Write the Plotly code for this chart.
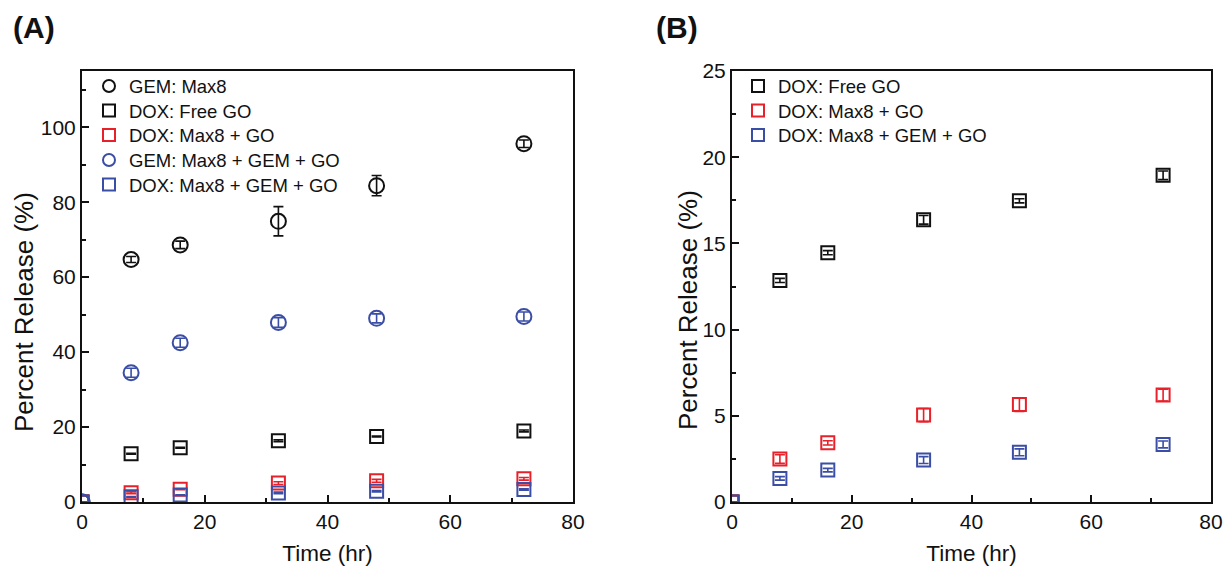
import plotly.graph_objects as go

# ---- data ----
time_hr = [0, 8, 16, 32, 48, 72]

gem_max8 = [0, 64.7, 68.6, 74.9, 84.4, 95.6]
gem_max8_err = [0, 0.8, 1.0, 3.9, 2.7, 1.0]

gem_max8_gem_go = [0, 34.5, 42.5, 47.9, 49.0, 49.5]
gem_max8_gem_go_err = [0, 1.2, 1.2, 1.3, 1.2, 1.2]

dox_free_go = [0, 12.85, 14.46, 16.37, 17.47, 18.95]
dox_free_go_err = [0, 0.12, 0.12, 0.25, 0.12, 0.25]

dox_max8_go = [0, 2.49, 3.43, 5.04, 5.65, 6.20]
dox_max8_go_err = [0, 0.25, 0.12, 0.38, 0.4, 0.35]

dox_max8_gem_go = [0, 1.37, 1.85, 2.43, 2.88, 3.34]
dox_max8_gem_go_err = [0, 0.1, 0.1, 0.2, 0.2, 0.2]

x_ticks = [0, 20, 40, 60, 80]
yA_ticks = [0, 20, 40, 60, 80, 100]
yB_ticks = [0, 5, 10, 15, 20, 25]

BLACK = "#111111"
RED = "#e8202a"
BLUE = "#3b4ea6"
FONT = "Liberation Sans, Arial, Helvetica, sans-serif"

# page body has an 8px margin on every side: work in reference pixels, shifted,
# and keep the figure inside the window so nothing scrolls
OFF = 8
W, H = 1231 - 2 * OFF, 574 - 2 * OFF


def px(x):
    return (x - OFF) / W


def py(y):
    return 1 - (y - OFF) / H


fig = go.Figure()
legend_rows = []


def add(x, y, err, name, color, symbol, size, xaxis, yaxis, lx, ly):
    key = "legend" if not legend_rows else "legend%d" % (len(legend_rows) + 1)
    legend_rows.append((key, lx, ly))
    fig.add_trace(go.Scatter(
        x=x, y=y, mode="markers", name=name,
        xaxis=xaxis, yaxis=yaxis, legend=key,
        marker=dict(symbol=symbol, size=size, color=color,
                    line=dict(color=color, width=2)),
        error_y=dict(type="data", array=err, visible=True, color=color,
                     thickness=1.6, width=5),
    ))


rows = [86.5, 111, 135.5, 160.5, 185]
LA, LB = 89, 738

# Panel A
add(time_hr, gem_max8, gem_max8_err, "GEM: Max8", BLACK, "circle-open", 15, "x", "y", LA, rows[0])
add(time_hr, dox_free_go, dox_free_go_err, "DOX: Free GO", BLACK, "square-open", 13, "x", "y", LA, rows[1])
add(time_hr, dox_max8_go, dox_max8_go_err, "DOX: Max8 + GO", RED, "square-open", 13, "x", "y", LA, rows[2])
add(time_hr, gem_max8_gem_go, gem_max8_gem_go_err, "GEM: Max8 + GEM + GO", BLUE, "circle-open", 15, "x", "y", LA, rows[3])
add(time_hr, dox_max8_gem_go, dox_max8_gem_go_err, "DOX: Max8 + GEM + GO", BLUE, "square-open", 13, "x", "y", LA, rows[4])

# Panel B
add(time_hr, dox_free_go, dox_free_go_err, "DOX: Free GO", BLACK, "square-open", 13, "x2", "y2", LB, rows[0])
add(time_hr, dox_max8_go, dox_max8_go_err, "DOX: Max8 + GO", RED, "square-open", 13, "x2", "y2", LB, rows[1])
add(time_hr, dox_max8_gem_go, dox_max8_gem_go_err, "DOX: Max8 + GEM + GO", BLUE, "square-open", 13, "x2", "y2", LB, rows[2])

yb, yt = py(502), py(71)

common_axis = dict(
    showline=True, linecolor=BLACK, linewidth=2, mirror=True,
    ticks="inside", ticklen=7, tickwidth=2, tickcolor=BLACK,
    showgrid=False, zeroline=False, automargin=False,
    ticklabeloverflow="allow",
    tickfont=dict(family=FONT, size=21, color=BLACK),
)

xaxis_common = dict(common_axis, range=[0, 80], tickvals=x_ticks,
                    minor=dict(ticks="inside", ticklen=4, tickwidth=2,
                               tickcolor=BLACK, dtick=10, tick0=0),
                    title=dict(text="Time (hr)", standoff=22,
                               font=dict(family=FONT, size=22.5, color=BLACK)))

layout = dict(
    width=W, height=H,
    margin=dict(l=0, r=0, t=0, b=0, autoexpand=False),
    paper_bgcolor="white", plot_bgcolor="white",
    font=dict(family=FONT, color=BLACK),
    xaxis=dict(xaxis_common, domain=[px(82), px(573)], anchor="y"),
    yaxis=dict(common_axis, domain=[yb, yt], anchor="x", range=[0, 115],
               tickvals=yA_ticks,
               minor=dict(ticks="inside", ticklen=4, tickwidth=2,
                          tickcolor=BLACK, dtick=10, tick0=0)),
    xaxis2=dict(xaxis_common, domain=[px(732), px(1211)], anchor="y2"),
    yaxis2=dict(common_axis, domain=[yb, yt], anchor="x2", range=[0, 25],
                tickvals=yB_ticks,
                minor=dict(ticks="inside", ticklen=4, tickwidth=2,
                           tickcolor=BLACK, dtick=2.5, tick0=0)),
    showlegend=True,
    annotations=[
        dict(text="<b>(A)</b>", x=px(11), y=py(27), xref="paper", yref="paper",
             xanchor="left", yanchor="middle", showarrow=False,
             font=dict(family=FONT, size=30, color=BLACK)),
        dict(text="<b>(B)</b>", x=px(654), y=py(27), xref="paper", yref="paper",
             xanchor="left", yanchor="middle", showarrow=False,
             font=dict(family=FONT, size=30, color=BLACK)),
        dict(text="Percent Release (%)", x=px(24), y=py(312), xref="paper", yref="paper",
             xanchor="center", yanchor="middle", showarrow=False, textangle=-90,
             font=dict(family=FONT, size=26, color=BLACK)),
        dict(text="Percent Release (%)", x=px(688), y=py(310), xref="paper", yref="paper",
             xanchor="center", yanchor="middle", showarrow=False, textangle=-90,
             font=dict(family=FONT, size=26, color=BLACK)),
    ],
)

for key, lx, ly in legend_rows:
    layout[key] = dict(x=px(lx), y=py(ly - 19), xanchor="left", yanchor="top",
                       bgcolor="rgba(0,0,0,0)",
                       font=dict(family=FONT, size=18.5, color=BLACK),
                       itemsizing="constant")

fig.update_layout(**layout)

fig.write_html("out.html")
